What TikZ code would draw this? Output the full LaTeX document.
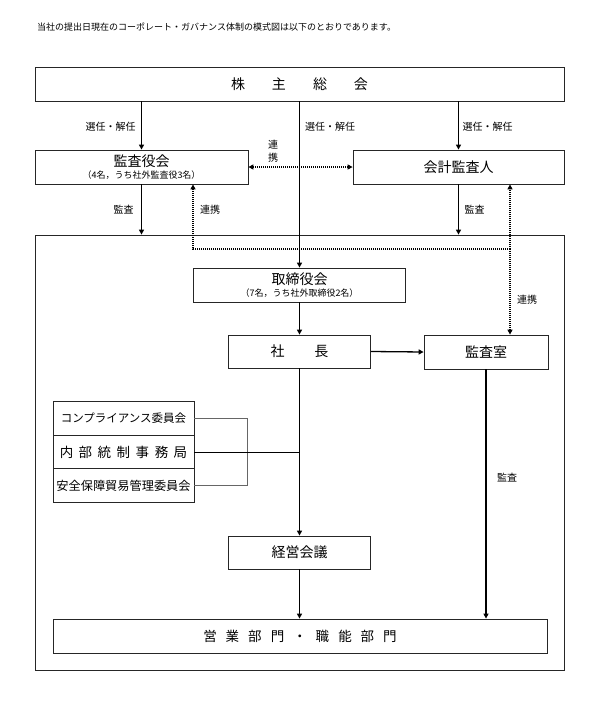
\documentclass[tikz,border=0pt]{standalone}
\usepackage{fontspec}
\setmainfont{Noto Sans CJK JP}
\usetikzlibrary{arrows.meta}
\newcommand\jfs[1]{\fontsize{#1}{#1}\selectfont}
\begin{document}
\begin{tikzpicture}[x=1pt,y=-1pt,
  box/.style={draw=black!85, line width=0.8pt, inner sep=0pt, anchor=center, font=\jfs{14}},
  arr/.style={line width=1.3pt, -{Triangle[length=5pt,width=5pt]}},
  dot/.style={line width=1.3pt, dash pattern=on 1pt off 1pt},
  dotarr/.style={dot, -{Triangle[length=5pt,width=5pt]}},
  lbl/.style={font=\jfs{10}, inner sep=0pt},
  thin/.style={line width=0.6pt}]
\fill[white] (0,0) rectangle (600,704);
\useasboundingbox (0,0) rectangle (600,704);

\node[lbl, anchor=west, font=\jfs{9}] (title) at (37,27) {当社の提出日現在のコーポレート・ガバナンス体制の模式図は以下のとおりであります。};

\node[box, minimum width=529pt, minimum height=34pt] (kabu) at (299.5,84) {株\hspace{27pt}主\hspace{27pt}総\hspace{27pt}会};
\node[box, minimum width=213pt, minimum height=34pt, align=center] (kansayaku) at (141.5,167) {監査役会\\[-2pt]{\jfs{9}（4名，うち社外監査役3名）}};
\node[box, minimum width=211pt, minimum height=34pt] (kaikei) at (458.5,167) {会計監査人};
\node[draw=black!85, line width=0.8pt, minimum width=529pt, minimum height=435pt, inner sep=0pt] (outer) at (299.5,452.5) {};
\node[box, minimum width=212pt, minimum height=34pt, align=center] (tori) at (299.5,285) {取締役会\\[-2pt]{\jfs{9}（7名，うち社外取締役2名）}};
\node[box, minimum width=142pt, minimum height=33pt] (shacho) at (299.5,351.5) {社\hspace{30pt}長};
\node[box, minimum width=124pt, minimum height=34pt] (kansashitsu) at (486,352) {監査室};
\node[box, minimum width=141pt, minimum height=33.5pt, font=\jfs{11.5}] (comp) at (123.5,418.5) {コンプライアンス委員会};
\node[box, minimum width=141pt, minimum height=33.5pt, font=\jfs{13.5}] (naibu) at (123.5,452) {内\hspace{5.5pt}部\hspace{5.5pt}統\hspace{5.5pt}制\hspace{5.5pt}事\hspace{5.5pt}務\hspace{5.5pt}局};
\node[box, minimum width=141pt, minimum height=33.5pt, font=\jfs{12.2}] (anzen) at (123.5,485.5) {安全保障貿易管理委員会};
\node[box, minimum width=142pt, minimum height=33pt] (keiei) at (299.5,552.5) {経営会議};
\node[box, minimum width=494pt, minimum height=34pt, font=\jfs{13.5}] (eigyo) at (300,636) {営\hspace{9pt}業\hspace{9pt}部\hspace{9pt}門\hspace{9pt}・\hspace{9pt}職\hspace{9pt}能\hspace{9pt}部\hspace{9pt}門};

% solid arrows
\draw[arr] (kabu.south -| kansayaku.north) -- (kansayaku.north);
\draw[arr] (kabu.south -| tori.north) -- (tori.north);
\draw[arr] (kabu.south -| kaikei.north) -- (kaikei.north);
\draw[arr] (kansayaku.south) -- (kansayaku.south |- outer.north);
\draw[arr] (kaikei.south) -- (kaikei.south |- outer.north);
\draw[arr] (tori.south) -- (shacho.north);
\draw[arr] (shacho.east) -- (kansashitsu.west);
\draw[arr] (shacho.south) -- (keiei.north);
\draw[arr] (keiei.south) -- (keiei.south |- eigyo.north);
\draw[arr] (kansashitsu.south) -- (kansashitsu.south |- eigyo.north);

% dotted links
\draw[dot, {Triangle[length=5pt,width=5pt]}-{Triangle[length=5pt,width=5pt]}] (kansayaku.east) -- (kaikei.west);
\coordinate (j) at (510,249);
\coordinate (d) at (193,249);
\draw[dotarr] (j) -- (d) -- (d |- kansayaku.south);
\draw[dotarr] (j) -- (j |- kaikei.south);
\draw[dotarr] (j) -- (j |- kansashitsu.north);

% committee connectors
\draw[thin, black!60] (comp.east) -- ++(53,0) |- (anzen.east);
\draw[thin] (naibu.east) -- (naibu.east -| shacho.south);

% labels
\node[lbl] (s1) at (110.5,127) {選任・解任};
\node[lbl] (s2) at (330,127) {選任・解任};
\node[lbl] (s3) at (487.5,127) {選任・解任};
\node[lbl] (k1) at (123.5,210) {監査};
\node[lbl] (k2) at (474.5,210) {監査};
\node[lbl, align=center, font=\fontsize{10}{13}\selectfont] (r1) at (273,151) {連\\携};
\node[lbl] (r2) at (210,210) {連携};
\node[lbl] (r3) at (527,300) {連携};
\node[lbl] (k3) at (507,478) {監査};
\end{tikzpicture}
\end{document}
